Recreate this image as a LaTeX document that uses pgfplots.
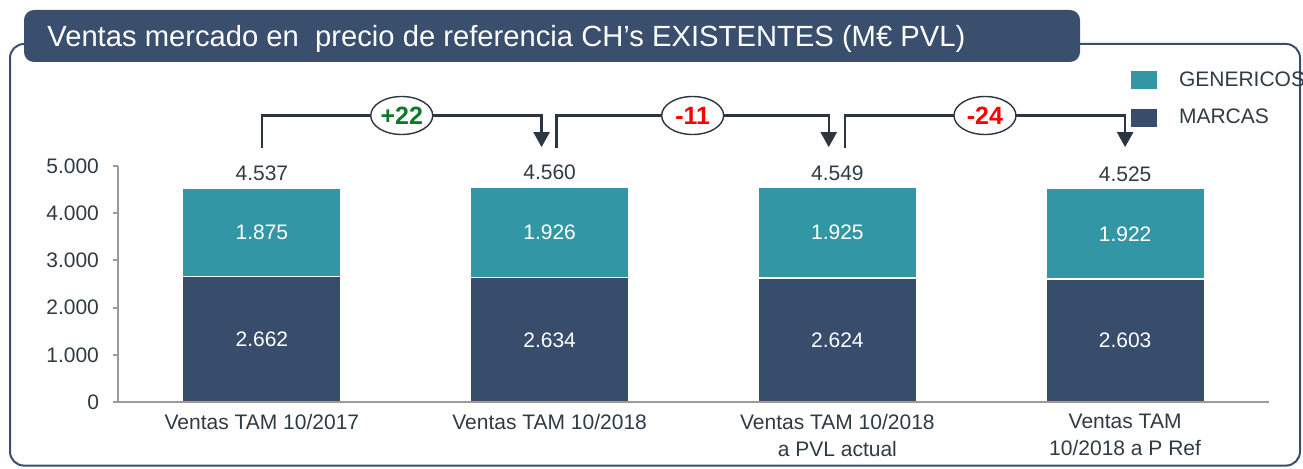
\documentclass[border=0pt]{standalone}
\usepackage{fontspec}
\setmainfont{Liberation Sans}
\usepackage{pgfplots}
\pgfplotsset{compat=1.18}
\usepackage{pgfplotstable}
\usetikzlibrary{arrows.meta,shapes.geometric}

\definecolor{navy}{HTML}{384C6C}
\definecolor{bannerc}{HTML}{3A4E6D}
\definecolor{tealc}{HTML}{3296A5}
\definecolor{txt}{HTML}{2F3B44}
\definecolor{axgray}{HTML}{9B9B9B}
\definecolor{arr}{HTML}{2B3640}
\definecolor{grn}{HTML}{0B7A25}
\definecolor{redc}{HTML}{FF0000}

\pgfplotstableread{
x marcas genericos total
0 2662 1875 4537
1 2634 1926 4560
2 2624 1925 4549
3 2603 1922 4525
}\ventas

\newcommand{\fs}{\fontsize{10.5}{13.5}\selectfont}

\begin{document}
\begin{tikzpicture}
\path[use as bounding box] (0,0) rectangle (651.5pt,-234.5pt);
\draw[bannerc, line width=1pt, rounded corners=7pt] (5pt,-22pt) rectangle (650pt,-232.8pt);
\fill[bannerc, rounded corners=5pt] (12pt,-5pt) rectangle (540pt,-31pt);
\node[anchor=base west, inner sep=0pt, text=white, font=\fontsize{14.6}{17}\selectfont] at (23.5pt,-23.5pt) {Ventas mercado en\ \ precio de referencia CH’s EXISTENTES (M€ PVL)};

\begin{axis}[
  at={(59pt,-201pt)}, anchor=south west,
  scale only axis, width=575.5pt, height=118pt,
  xmin=-0.5, xmax=3.5, ymin=0, ymax=5000,
  axis x line*=bottom, axis y line*=left,
  axis line style={axgray, line width=1pt},
  axis on top,
  clip=false,
  xtick={0,1,2,3},
  xticklabels={{Ventas TAM 10/2017},{Ventas TAM 10/2018},{Ventas TAM 10/2018\\a PVL actual},{Ventas TAM\\10/2018 a P Ref}},
  xticklabel style={align=center, anchor=north, text=txt, font=\fs},
  xtick style={draw=none},
  ytick={0,1000,2000,3000,4000,5000},
  tick align=outside, major tick length=2.5pt,
  ytick style={axgray, line width=1pt},
  yticklabel style={text=txt, font=\fs, xshift=-3.5pt},
  /pgf/number format/1000 sep={.},
  /pgf/number format/assume math mode=true,
  legend style={at={(axis description cs:0.8784,1.411)}, anchor=north west, draw=none, fill=none, inner sep=0pt, font=\fs, text=txt, row sep=8pt, nodes={inner sep=0pt}, /tikz/every odd column/.append style={column sep=10pt}},
  legend image code/.code={\fill[#1] (0pt,-5pt) rectangle (14pt,5pt);},
  legend cell align=left,
]
\addplot[ybar, bar width=79.3pt, bar shift=0pt, fill=tealc, draw=white, line width=0.8pt] table[x=x,y=total]{\ventas};
\addlegendentry{GENERICOS}
\addplot[ybar, bar width=79.3pt, bar shift=0pt, fill=navy, draw=white, line width=0.8pt] table[x=x,y=marcas]{\ventas};
\addlegendentry{MARCAS}

\addplot[draw=none, mark=none, forget plot, nodes near coords, point meta=explicit,
  nodes near coords style={anchor=center, text=white, font=\fs}]
  table[x=x, y expr=\thisrow{marcas}/2, meta=marcas]{\ventas};
\addplot[draw=none, mark=none, forget plot, nodes near coords, point meta=explicit,
  nodes near coords style={anchor=center, text=white, font=\fs}]
  table[x=x, y expr=\thisrow{marcas}+\thisrow{genericos}/2, meta=genericos]{\ventas};
\addplot[draw=none, mark=none, forget plot, nodes near coords, point meta=explicit,
  nodes near coords style={anchor=south, text=txt, font=\fs}]
  table[x=x, y=total, meta=total]{\ventas};

\draw[arr, line width=1.2pt, -{Triangle[width=8pt,length=7.5pt]}] (axis cs:0,5381) |- (axis cs:0.972,6070) -- (axis cs:0.972,5400);
\draw[arr, line width=1.2pt, -{Triangle[width=8pt,length=7.5pt]}] (axis cs:1.024,5381) |- (axis cs:1.97,6070) -- (axis cs:1.97,5400);
\draw[arr, line width=1.2pt, -{Triangle[width=8pt,length=7.5pt]}] (axis cs:2.026,5381) |- (axis cs:3.0,6070) -- (axis cs:3.0,5400);
\tikzset{oval/.style={ellipse, draw=arr, line width=0.7pt, fill=white, minimum width=31pt, minimum height=19pt, inner sep=0pt, font=\fontsize{12.5}{14}\selectfont\bfseries}}
\node[oval, text=grn] at (axis cs:0.486,6070) {+22};
\node[oval, text=redc] at (axis cs:1.497,6070) {-11};
\node[oval, text=redc] at (axis cs:2.513,6070) {-24};
\end{axis}
\end{tikzpicture}
\end{document}
